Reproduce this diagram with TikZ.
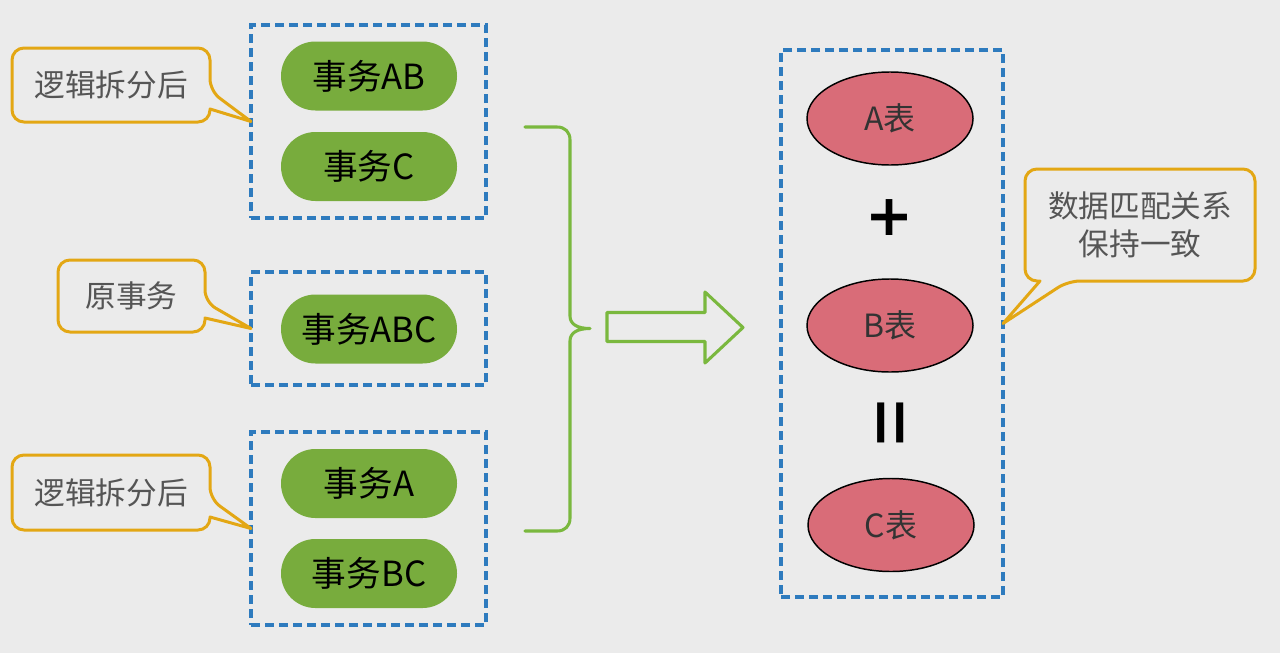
\documentclass[tikz,border=0pt]{standalone}
\usepackage{fontspec}
\newfontfamily\cjk{Noto Sans CJK SC}
\newfontfamily\djv{DejaVu Sans}
\usetikzlibrary{shapes.geometric,calc}
\definecolor{bg}{HTML}{EBEBEB}
\definecolor{dashblue}{HTML}{2E7BBE}
\definecolor{pillgreen}{HTML}{78AC3D}
\definecolor{linegreen}{HTML}{7AB83E}
\definecolor{callorange}{HTML}{E3A714}
\definecolor{calltext}{HTML}{555555}
\definecolor{tabred}{HTML}{D96C78}
\begin{document}
\begin{tikzpicture}[x=0.75pt,y=-0.75pt,
  dbox/.style={draw=dashblue,line width=2.3pt,dash pattern=on 6.5pt off 4pt,outer sep=0pt,inner sep=0pt},
  pill/.style={rectangle,rounded corners=25.8pt,fill=pillgreen,minimum width=132pt,minimum height=51.75pt,
    font=\cjk\fontsize{26}{28}\selectfont,text=black,outer sep=0pt},
  ctext/.style={outer sep=0pt,inner sep=0pt,font=\cjk\fontsize{23}{28.5}\selectfont,text=calltext,align=center},
  callout/.style={draw=callorange,line width=2.25pt,rounded corners=9pt,line join=round},
  tab/.style={ellipse,draw=black,line width=1.1pt,fill=tabred,minimum width=124.5pt,minimum height=69.75pt,
    inner sep=0pt,font=\cjk\fontsize{24}{26}\selectfont,text=black!80},
  greenline/.style={draw=linegreen,line width=2.3pt},
  sym/.style={inner sep=0pt,text=black}
]
\fill[bg] (0,0) rectangle (1280,653);
\useasboundingbox (0,0) rectangle (1280,653);

% dashed group boxes
\node[dbox,minimum width=176.25pt,minimum height=144.75pt] (box1) at (368.5,121.5) {};
\node[dbox,minimum width=176.25pt,minimum height=84.75pt] (box2) at (368.5,328.5) {};
\node[dbox,minimum width=176.25pt,minimum height=144.75pt] (box3) at (368.5,528.5) {};
\node[dbox,minimum width=166.5pt,minimum height=410.25pt] (rbox) at (892,323.5) {};

% transactions
\node[pill] (tab) at (369,76) {事务AB};
\node[pill] (tc) at (369,166.5) {事务C};
\node[pill] (tabc) at (369,329) {事务ABC};
\node[pill] (ta) at (369,483.5) {事务A};
\node[pill] (tbc) at (369,573.5) {事务BC};

% callouts
\node[ctext,minimum width=148.5pt,minimum height=55.5pt] (c1) at (111,85) {逻辑拆分后};
\draw[callout] ($(c1.north west)!0.5!(c1.north east)$) -- (c1.north east) -- ($(c1.north east)+(0,43)$)
  [sharp corners] -- (box1.west) -- ($(c1.north east)+(0,61)$) [rounded corners=9pt]
  -- (c1.south east) -- (c1.south west) -- (c1.north west) -- cycle;

\node[ctext,minimum width=110.25pt,minimum height=54pt] (c2) at (131.5,296) {原事务};
\draw[callout] ($(c2.north west)!0.5!(c2.north east)$) -- (c2.north east) -- ($(c2.north east)+(0,42)$)
  [sharp corners] -- (box2.west) -- ($(c2.north east)+(0,58)$) [rounded corners=9pt]
  -- (c2.south east) -- (c2.south west) -- (c2.north west) -- cycle;

\node[ctext,minimum width=148.5pt,minimum height=56.25pt] (c3) at (111,492.5) {逻辑拆分后};
\draw[callout] ($(c3.north west)!0.5!(c3.north east)$) -- (c3.north east) -- ($(c3.north east)+(0,44)$)
  [sharp corners] -- (box3.west) -- ($(c3.north east)+(0,62)$) [rounded corners=9pt]
  -- (c3.south east) -- (c3.south west) -- (c3.north west) -- cycle;

\node[ctext,minimum width=172.5pt,minimum height=84pt] (c4) at (1140,225) {数据匹配关系\\保持一致};
\draw[callout] ($(c4.north west)!0.5!(c4.north east)$) -- (c4.north east) -- (c4.south east)
  -- ($(c4.south west)+(43,0)$) [sharp corners] -- (rbox.east) -- ($(c4.south west)+(15,0)$)
  [rounded corners=9pt] -- (c4.south west) -- (c4.north west) -- cycle;

% brace
\coordinate (bt) at (525,127);
\coordinate (bb) at (525,531);
\coordinate (btip) at (590,328.5);
\draw[greenline,line cap=round,line join=round] (bt) -- (557,127)
  .. controls (565,127) and (570,132) .. (570,140) -- (570,316)
  .. controls (570,324) and (577,328.5) .. (btip)
  .. controls (577,328.5) and (570,333) .. (570,341) -- (570,518)
  .. controls (570,526) and (565,531) .. (557,531) -- (bb);

% hollow arrow
\draw[greenline,line join=round] (607,312.5) -- (705,312.5) -- (705,292) -- (743,327.5) -- (705,363)
  -- (705,341.5) -- (607,341.5) -- cycle;

% tables
\node[tab] (ta2) at (890,118.5) {A表};
\node[sym,font=\djv\bfseries\fontsize{43}{43}\selectfont] (plus) at (890,218) {+};
\node[tab] (tb2) at (890,325.5) {B表};
\node[sym,font=\djv\bfseries\fontsize{30}{30}\selectfont,xscale=1.6] (eq) at (890.5,423) {|\kern-2pt|};
\node[tab] (tc2) at (891,525) {C表};
\end{tikzpicture}
\end{document}
